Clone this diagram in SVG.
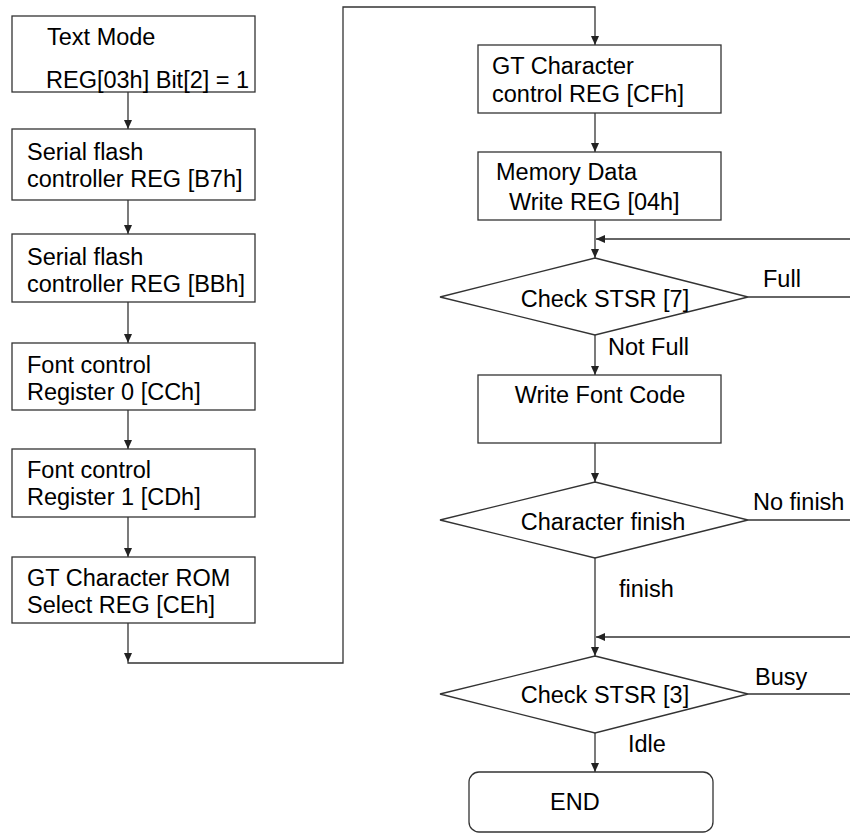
<svg xmlns="http://www.w3.org/2000/svg" width="850" height="836" viewBox="0 0 850 836">
<style>
.box{fill:#fff;stroke:#333;stroke-width:1.3}
.ln{fill:none;stroke:#333;stroke-width:1.3}
text{font-family:"Liberation Sans",Arial,sans-serif;font-size:23.5px;fill:#000}
</style>
<defs>
<marker id="ah" markerWidth="10" markerHeight="10" refX="9" refY="5" orient="auto" markerUnits="userSpaceOnUse">
<path d="M0,1 L9,5 L0,9 Z" fill="#222"/>
</marker>
</defs>
<rect width="850" height="836" fill="#fff"/>
<g id="connectors">
<path class="ln" d="M128,92 V129" marker-end="url(#ah)"/>
<path class="ln" d="M128,200 V234" marker-end="url(#ah)"/>
<path class="ln" d="M128,302 V343" marker-end="url(#ah)"/>
<path class="ln" d="M128,410 V449" marker-end="url(#ah)"/>
<path class="ln" d="M128,517 V557" marker-end="url(#ah)"/>
<path class="ln" d="M128,623 V662" marker-end="url(#ah)"/>
<path class="ln" d="M128,662 V663 H343 V7 H595 V45" marker-end="url(#ah)"/>
<path class="ln" d="M595,113 V152" marker-end="url(#ah)"/>
<path class="ln" d="M595,220 V258" marker-end="url(#ah)"/>
<path class="ln" d="M850,239 H596" marker-end="url(#ah)"/>
<path class="ln" d="M748,297 H850"/>
<path class="ln" d="M595,335 V375" marker-end="url(#ah)"/>
<path class="ln" d="M595,443 V482" marker-end="url(#ah)"/>
<path class="ln" d="M748,520 H850"/>
<path class="ln" d="M595,558 V656" marker-end="url(#ah)"/>
<path class="ln" d="M850,637 H596" marker-end="url(#ah)"/>
<path class="ln" d="M748,694 H850"/>
<path class="ln" d="M595,733 V772" marker-end="url(#ah)"/>
</g>
<g id="n1"><rect class="box" x="12" y="16" width="243" height="76"/><text x="47" y="45">Text Mode</text><text x="46" y="88">REG[03h] Bit[2] = 1</text></g>
<g id="n2"><rect class="box" x="12" y="129" width="243" height="71"/><text x="27" y="160">Serial flash</text><text x="27" y="187">controller REG [B7h]</text></g>
<g id="n3"><rect class="box" x="12" y="234" width="243" height="68"/><text x="27" y="265">Serial flash</text><text x="27" y="292">controller REG [BBh]</text></g>
<g id="n4"><rect class="box" x="12" y="343" width="243" height="67"/><text x="27" y="373">Font control</text><text x="27" y="400">Register 0 [CCh]</text></g>
<g id="n5"><rect class="box" x="12" y="449" width="243" height="68"/><text x="27" y="478">Font control</text><text x="27" y="505">Register 1 [CDh]</text></g>
<g id="n6"><rect class="box" x="12" y="557" width="243" height="66"/><text x="27" y="586">GT Character ROM</text><text x="27" y="613">Select REG [CEh]</text></g>
<g id="n7"><rect class="box" x="478" y="45" width="243" height="68"/><text x="492" y="74">GT Character</text><text x="492" y="102">control REG [CFh]</text></g>
<g id="n8"><rect class="box" x="478" y="152" width="243" height="68"/><text x="496" y="180">Memory Data</text><text x="509" y="210">Write REG [04h]</text></g>
<g id="n9"><polygon class="box" points="595,258 748,297 595,335 440,297"/><text x="605" y="307" text-anchor="middle">Check STSR [7]</text></g>
<g id="n10"><rect class="box" x="478" y="375" width="243" height="68"/><text x="600" y="403" text-anchor="middle">Write Font Code</text></g>
<g id="n11"><polygon class="box" points="595,482 748,520 595,558 440,520"/><text x="603" y="530" text-anchor="middle">Character finish</text></g>
<g id="n12"><polygon class="box" points="595,656 748,694 595,733 440,694"/><text x="605" y="703" text-anchor="middle">Check STSR [3]</text></g>
<g id="n13"><rect class="box" x="469" y="772" width="244" height="60" rx="10"/><text x="550" y="810">END</text></g>
<g id="labels">
<text x="763" y="287">Full</text>
<text x="608" y="355">Not Full</text>
<text x="753" y="510">No finish</text>
<text x="619" y="597">finish</text>
<text x="755" y="685">Busy</text>
<text x="628" y="752">Idle</text>
</g>
</svg>
